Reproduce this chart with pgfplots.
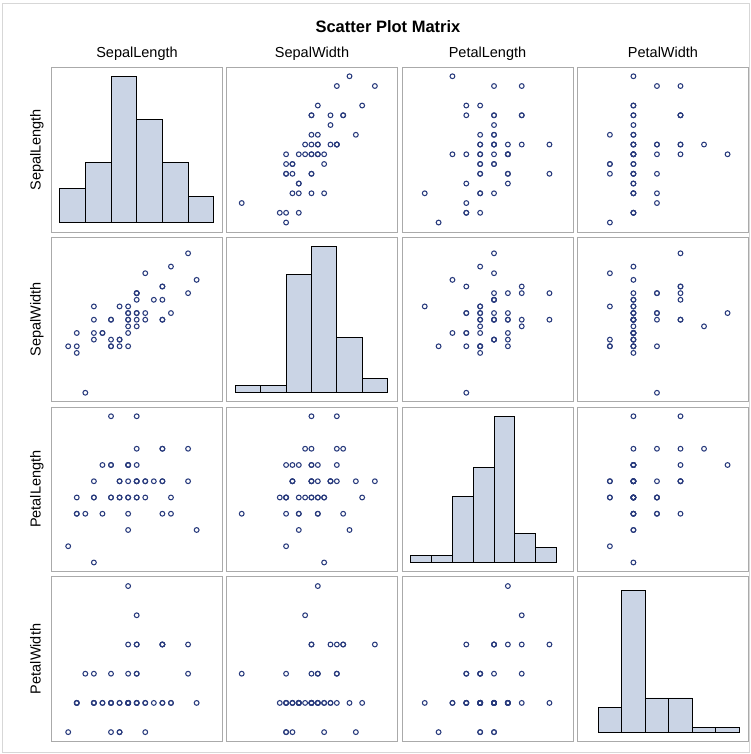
\documentclass[border=0pt]{standalone}
\usepackage{pgfplots}
\usepackage{pgfplotstable}
\pgfplotsset{compat=1.18}
\usepackage{fontspec}
\setmainfont{Liberation Sans}
\definecolor{histfill}{RGB}{202,212,229}
\definecolor{markblue}{RGB}{40,58,124}
\definecolor{panelgray}{RGB}{170,170,170}
\definecolor{framegray}{RGB}{215,215,215}

\pgfplotstableread{
SL SW PL PW
5.1 3.5 1.4 0.2
4.9 3.0 1.4 0.2
4.7 3.2 1.3 0.2
4.6 3.1 1.5 0.2
5.0 3.6 1.4 0.2
5.4 3.9 1.7 0.4
4.6 3.4 1.4 0.3
5.0 3.4 1.5 0.2
4.4 2.9 1.4 0.2
4.9 3.1 1.5 0.1
5.4 3.7 1.5 0.2
4.8 3.4 1.6 0.2
4.8 3.0 1.4 0.1
4.3 3.0 1.1 0.1
5.8 4.0 1.2 0.2
5.7 4.4 1.5 0.4
5.4 3.9 1.3 0.4
5.1 3.5 1.4 0.3
5.7 3.8 1.7 0.3
5.1 3.8 1.5 0.3
5.4 3.4 1.7 0.2
5.1 3.7 1.5 0.4
4.6 3.6 1.0 0.2
5.1 3.3 1.7 0.5
4.8 3.4 1.9 0.2
5.0 3.0 1.6 0.2
5.0 3.4 1.6 0.4
5.2 3.5 1.5 0.2
5.2 3.4 1.4 0.2
4.7 3.2 1.6 0.2
4.8 3.1 1.6 0.2
5.4 3.4 1.5 0.4
5.2 4.1 1.5 0.1
5.5 4.2 1.4 0.2
4.9 3.1 1.5 0.2
5.0 3.2 1.2 0.2
5.5 3.5 1.3 0.2
4.9 3.6 1.4 0.1
4.4 3.0 1.3 0.2
5.1 3.4 1.5 0.2
5.0 3.5 1.3 0.3
4.5 2.3 1.3 0.3
4.4 3.2 1.3 0.2
5.0 3.5 1.6 0.6
5.1 3.8 1.9 0.4
4.8 3.0 1.4 0.3
5.1 3.8 1.6 0.2
4.6 3.2 1.4 0.2
5.3 3.7 1.5 0.2
5.0 3.3 1.4 0.2
}\iris

\pgfplotsset{
  panel/.style={scale only axis, width=171bp, height=164.5bp, anchor=south west,
    xtick=\empty, ytick=\empty, axis line style={draw=panelgray, line width=0.8bp}},
  xSL/.style={xmin=4.105, xmax=6.102},
  xSW/.style={xmin=2.06, xmax=4.757},
  xPL/.style={xmin=0.836, xmax=2.07},
  xPW/.style={xmin=-0.0376, xmax=0.689},
  ySL/.style={ymin=4.202, ymax=5.889},
  ySW/.style={ymin=2.164, ymax=4.641},
  yPL/.style={ymin=0.9445, ymax=1.957},
  yPW/.style={ymin=0.069, ymax=0.632},
  hSL/.style={ymin=-1.11, ymax=18.0},
  hSW/.style={ymin=-1.29, ymax=22.34},
  hPL/.style={ymin=-1.23, ymax=21.27},
  hPW/.style={ymin=-1.84, ymax=31.8},
  pts/.style={only marks, mark=o, mark size=2.4bp, mark options={draw=markblue, line width=1.05bp}},
  hist/.style={ybar interval, fill=histfill, draw=black, line width=0.9bp},
}

\begin{document}
\begin{tikzpicture}
\path[use as bounding box] (0,0) rectangle (751bp,754bp);
\draw[framegray, line width=0.8bp] (2bp,2bp) rectangle (749.5bp,751bp);

% titles
\node[anchor=base, font=\fontsize{16.5bp}{19bp}\selectfont\bfseries] at (388bp,721.3bp) {Scatter Plot Matrix};
\foreach \cx/\lab in {137/SepalLength, 312/SepalWidth, 487.5/PetalLength, 663/PetalWidth}
  \node[anchor=base, font=\fontsize{14.5bp}{17bp}\selectfont] at (\cx bp,696.7bp) {\lab};
\foreach \cy/\lab in {604.15/SepalLength, 434.45/SepalWidth, 264.75/PetalLength, 95.05/PetalWidth}
  \node[anchor=base, rotate=90, font=\fontsize{14.5bp}{17bp}\selectfont] at (40.5bp,\cy bp) {\lab};

% Row 1: SepalLength
\begin{axis}[panel, at={(51.5bp,521.9bp)}, xSL, hSL]
\addplot[hist] coordinates {(4.2,4)(4.5,7)(4.8,17)(5.1,12)(5.4,7)(5.7,3)(6.0,3)};
\end{axis}
\begin{axis}[panel, at={(226.5bp,521.9bp)}, xSW, ySL]
\addplot[pts] table[x=SW,y=SL]{\iris};
\end{axis}
\begin{axis}[panel, at={(402bp,521.9bp)}, xPL, ySL]
\addplot[pts] table[x=PL,y=SL]{\iris};
\end{axis}
\begin{axis}[panel, at={(577.5bp,521.9bp)}, xPW, ySL]
\addplot[pts] table[x=PW,y=SL]{\iris};
\end{axis}

% Row 2: SepalWidth
\begin{axis}[panel, at={(51.5bp,352.2bp)}, xSL, ySW]
\addplot[pts] table[x=SL,y=SW]{\iris};
\end{axis}
\begin{axis}[panel, at={(226.5bp,352.2bp)}, xSW, hSW]
\addplot[hist] coordinates {(2.2,1)(2.6,1)(3.0,17)(3.4,21)(3.8,8)(4.2,2)(4.6,2)};
\end{axis}
\begin{axis}[panel, at={(402bp,352.2bp)}, xPL, ySW]
\addplot[pts] table[x=PL,y=SW]{\iris};
\end{axis}
\begin{axis}[panel, at={(577.5bp,352.2bp)}, xPW, ySW]
\addplot[pts] table[x=PW,y=SW]{\iris};
\end{axis}

% Row 3: PetalLength
\begin{axis}[panel, at={(51.5bp,182.5bp)}, xSL, yPL]
\addplot[pts] table[x=SL,y=PL]{\iris};
\end{axis}
\begin{axis}[panel, at={(226.5bp,182.5bp)}, xSW, yPL]
\addplot[pts] table[x=SW,y=PL]{\iris};
\end{axis}
\begin{axis}[panel, at={(402bp,182.5bp)}, xPL, hPL]
\addplot[hist] coordinates {(0.9,1)(1.05,1)(1.2,9)(1.35,13)(1.5,20)(1.65,4)(1.8,2)(1.95,2)};
\end{axis}
\begin{axis}[panel, at={(577.5bp,182.5bp)}, xPW, yPL]
\addplot[pts] table[x=PW,y=PL]{\iris};
\end{axis}

% Row 4: PetalWidth
\begin{axis}[panel, at={(51.5bp,12.8bp)}, xSL, yPW]
\addplot[pts] table[x=SL,y=PW]{\iris};
\end{axis}
\begin{axis}[panel, at={(226.5bp,12.8bp)}, xSW, yPW]
\addplot[pts] table[x=SW,y=PW]{\iris};
\end{axis}
\begin{axis}[panel, at={(402bp,12.8bp)}, xPL, yPW]
\addplot[pts] table[x=PL,y=PW]{\iris};
\end{axis}
\begin{axis}[panel, at={(577.5bp,12.8bp)}, xPW, hPW]
\addplot[hist] coordinates {(0.05,5)(0.15,29)(0.25,7)(0.35,7)(0.45,1)(0.55,1)(0.65,1)};
\end{axis}
\end{tikzpicture}
\end{document}
